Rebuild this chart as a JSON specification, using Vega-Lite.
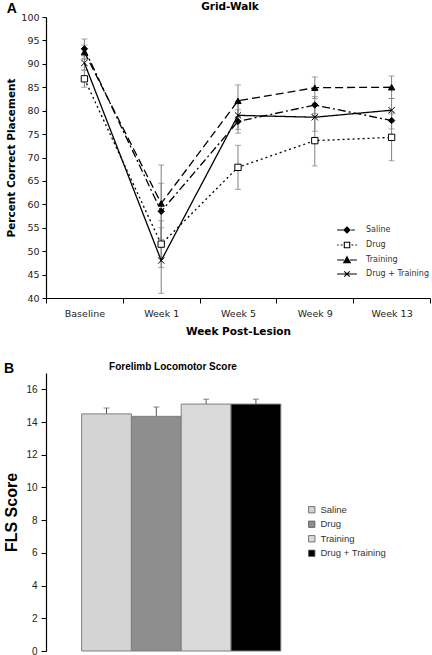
{
  "$schema": "https://vega.github.io/schema/vega-lite/v6.json",
  "padding": {"left": 3, "top": 1, "right": 0, "bottom": 2},
  "background": "white",
  "config": {
    "view": {"stroke": null},
    "axis": {"grid": false, "domainColor": "black", "tickColor": "black", "domainWidth": 1.2, "tickWidth": 1}
  },
  "resolve": {
    "scale": {"fill": "independent", "strokeDash": "independent", "shape": "independent"},
    "legend": {"fill": "independent", "strokeDash": "independent", "shape": "independent"}
  },
  "datasets": {
    "grid": [
      {"week": "Baseline", "group": "Saline", "value": 93.2, "err": 2.1},
      {"week": "Baseline", "group": "Drug", "value": 86.8, "err": 1.8},
      {"week": "Baseline", "group": "Training", "value": 92.5, "err": 1.5},
      {"week": "Baseline", "group": "Drug + Training", "value": 90.2, "err": 1.5},
      {"week": "Week 1", "group": "Saline", "value": 58.5, "err": 6.0},
      {"week": "Week 1", "group": "Drug", "value": 51.5, "err": 5.0},
      {"week": "Week 1", "group": "Training", "value": 60.2, "err": 8.2},
      {"week": "Week 1", "group": "Drug + Training", "value": 48.0, "err": 7.0},
      {"week": "Week 5", "group": "Saline", "value": 77.7, "err": 2.5},
      {"week": "Week 5", "group": "Drug", "value": 67.9, "err": 4.7},
      {"week": "Week 5", "group": "Training", "value": 82.1, "err": 3.4},
      {"week": "Week 5", "group": "Drug + Training", "value": 79.0, "err": 3.0},
      {"week": "Week 9", "group": "Saline", "value": 81.2, "err": 1.8},
      {"week": "Week 9", "group": "Drug", "value": 73.6, "err": 5.4},
      {"week": "Week 9", "group": "Training", "value": 84.9, "err": 2.3},
      {"week": "Week 9", "group": "Drug + Training", "value": 78.6, "err": 3.0},
      {"week": "Week 13", "group": "Saline", "value": 77.9, "err": 1.8},
      {"week": "Week 13", "group": "Drug", "value": 74.3, "err": 5.0},
      {"week": "Week 13", "group": "Training", "value": 85.0, "err": 2.4},
      {"week": "Week 13", "group": "Drug + Training", "value": 80.1, "err": 2.5}
    ],
    "fls": [
      {"group": "Saline", "score": 14.5, "err": 0.36},
      {"group": "Drug", "score": 14.35, "err": 0.57},
      {"group": "Training", "score": 15.1, "err": 0.3},
      {"group": "Drug + Training", "score": 15.1, "err": 0.3}
    ]
  },
  "spacing": 25,
  "vconcat": [
    {
      "title": {"text": "A", "anchor": "start", "offset": -14, "font": "Liberation Sans", "fontSize": 14, "fontWeight": "bold", "color": "black"},
      "vconcat": [
        {
          "data": {"name": "grid"},
          "width": 384,
          "height": 281,
          "title": {"text": "Grid-Walk", "font": "DejaVu Sans", "fontSize": 10.5, "fontWeight": "bold", "anchor": "middle", "offset": 0, "dx": -8, "color": "black"},
          "resolve": {
            "scale": {"shape": "independent", "fill": "independent"},
            "legend": {"shape": "independent", "fill": "independent"}
          },
          "encoding": {
            "x": {
              "field": "week", "type": "nominal",
              "sort": ["Baseline", "Week 1", "Week 5", "Week 9", "Week 13"],
              "scale": {"type": "band", "paddingInner": 0, "paddingOuter": 0},
              "axis": {"title": "Week Post-Lesion", "labelAngle": 0, "tickBand": "extent", "tickSize": 5, "labelPadding": 5,
                       "labelFont": "DejaVu Sans", "labelFontSize": 9.5, "labelColor": "#222",
                       "titleFont": "DejaVu Sans", "titleFontSize": 10.5, "titleFontWeight": "bold", "titleColor": "black", "titlePadding": 9}
            },
            "y": {
              "field": "value", "type": "quantitative",
              "scale": {"domain": [40, 100], "nice": false, "zero": false},
              "axis": {"title": "Percent Correct Placement", "values": [40, 45, 50, 55, 60, 65, 70, 75, 80, 85, 90, 95, 100],
                       "tickSize": 4, "labelPadding": 3,
                       "labelFont": "DejaVu Sans", "labelFontSize": 9.5, "labelColor": "#222",
                       "titleFont": "DejaVu Sans", "titleFontSize": 10.5, "titleFontWeight": "bold", "titleColor": "black", "titlePadding": 4}
            }
          },
          "layer": [
            {
              "mark": {"type": "errorbar", "ticks": {"size": 6}, "color": "#808080", "thickness": 1},
              "encoding": {"yError": {"field": "err"}}
            },
            {
              "mark": {"type": "line", "color": "black", "strokeWidth": 1.3},
              "encoding": {
                "strokeDash": {
                  "field": "group", "type": "nominal",
                  "scale": {"domain": ["Saline", "Drug", "Training", "Drug + Training"], "range": [[8, 3, 2, 3], [2, 3], [8, 4], [1, 0]]},
                  "legend": null
                }
              }
            },
            {
              "mark": {"type": "point", "filled": true, "stroke": "black", "strokeWidth": 1, "size": 40, "opacity": 1},
              "encoding": {
                "shape": {
                  "field": "group", "type": "nominal",
                  "scale": {"domain": ["Saline", "Drug", "Training", "Drug + Training"], "range": ["diamond", "square", "triangle-up", "M-1,-1L1,1M-1,1L1,-1"]},
                  "legend": null
                },
                "fill": {
                  "field": "group", "type": "nominal",
                  "scale": {"domain": ["Saline", "Drug", "Training", "Drug + Training"], "range": ["black", "white", "black", "transparent"]},
                  "legend": null
                }
              }
            },
            {
              "mark": {"type": "point", "filled": false, "color": "black", "stroke": "black", "strokeWidth": 1.1, "size": 36, "opacity": 0},
              "encoding": {
                "shape": {
                  "field": "group", "type": "nominal",
                  "scale": {
                    "domain": ["Saline", "Drug", "Training", "Drug + Training"],
                    "range": [
                      "M-3.3,0H-1.1M1.4,0H2.6M0,-1L1,0L0,1L-1,0ZM-1,0H1M-0.67,-0.33H0.67M-0.67,0.33H0.67M-0.33,-0.67H0.33M-0.33,0.67H0.33",
                      "M-3.3,0H-2.8M-2.1,0H-1.5M1.5,0H2.1M2.8,0H3.3M-0.9,-0.9H0.9V0.9H-0.9Z",
                      "M-3.3,0H-1M1,0H3.3M0,-1.1L1.1,0.9L-1.1,0.9ZM-0.27,-0.6H0.27M-0.5,-0.2H0.5M-0.71,0.2H0.71M-0.93,0.6H0.93",
                      "M-3.3,0H3.3M-0.9,-0.9L0.9,0.9M-0.9,0.9L0.9,-0.9"
                    ]
                  },
                  "legend": {
                    "title": null, "orient": "none", "legendX": 297, "legendY": 209, "padding": 0,
                    "symbolSize": 36, "symbolOpacity": 1, "symbolStrokeWidth": 1.1, "symbolStrokeColor": "black", "symbolFillColor": "transparent",
                    "labelFont": "DejaVu Sans", "labelFontSize": 8, "labelColor": "#333", "labelOffset": 15, "rowPadding": 4
                  }
                }
              }
            }
          ]
        }
      ]
    },
    {
      "title": {"text": "B", "anchor": "start", "offset": -14, "font": "Liberation Sans", "fontSize": 14, "fontWeight": "bold", "color": "black"},
      "vconcat": [
        {
          "data": {"name": "fls"},
          "width": 254,
          "height": 278,
          "title": {"text": "Forelimb Locomotor Score", "font": "Liberation Sans", "fontSize": 10, "fontWeight": "bold", "anchor": "middle", "offset": 1, "color": "black"},
          "encoding": {
            "x": {
              "field": "group", "type": "nominal",
              "sort": ["Saline", "Drug", "Training", "Drug + Training"],
              "scale": {"type": "band", "paddingInner": 0, "paddingOuter": 0.55, "align": 0.65},
              "axis": null
            },
            "y": {
              "field": "score", "type": "quantitative",
              "scale": {"domain": [0, 17], "nice": false},
              "axis": {"title": "FLS Score", "values": [0, 2, 4, 6, 8, 10, 12, 14, 16],
                       "tickSize": 5, "labelPadding": 4,
                       "labelFont": "Liberation Sans", "labelFontSize": 10, "labelColor": "#222",
                       "titleFont": "Liberation Sans", "titleFontSize": 16, "titleFontWeight": "bold", "titleColor": "black", "titlePadding": 6}
            }
          },
          "layer": [
            {
              "mark": {"type": "errorbar", "ticks": {"size": 6}, "color": "#555555", "thickness": 1},
              "encoding": {"yError": {"field": "err"}}
            },
            {
              "mark": {"type": "bar", "stroke": "#7f7f7f", "strokeWidth": 1},
              "encoding": {
                "fill": {
                  "field": "group", "type": "nominal",
                  "scale": {"domain": ["Saline", "Drug", "Training", "Drug + Training"], "range": ["#d4d4d4", "#8e8e8e", "#dadada", "#000000"]},
                  "legend": {
                    "title": null, "orient": "none", "legendX": 261, "legendY": 132, "padding": 0,
                    "symbolType": "square", "symbolSize": 40, "symbolStrokeColor": "#555", "symbolStrokeWidth": 0.8,
                    "labelFont": "Liberation Sans", "labelFontSize": 9.5, "labelColor": "#333", "labelOffset": 4, "rowPadding": 3.5
                  }
                }
              }
            }
          ]
        }
      ]
    }
  ]
}
